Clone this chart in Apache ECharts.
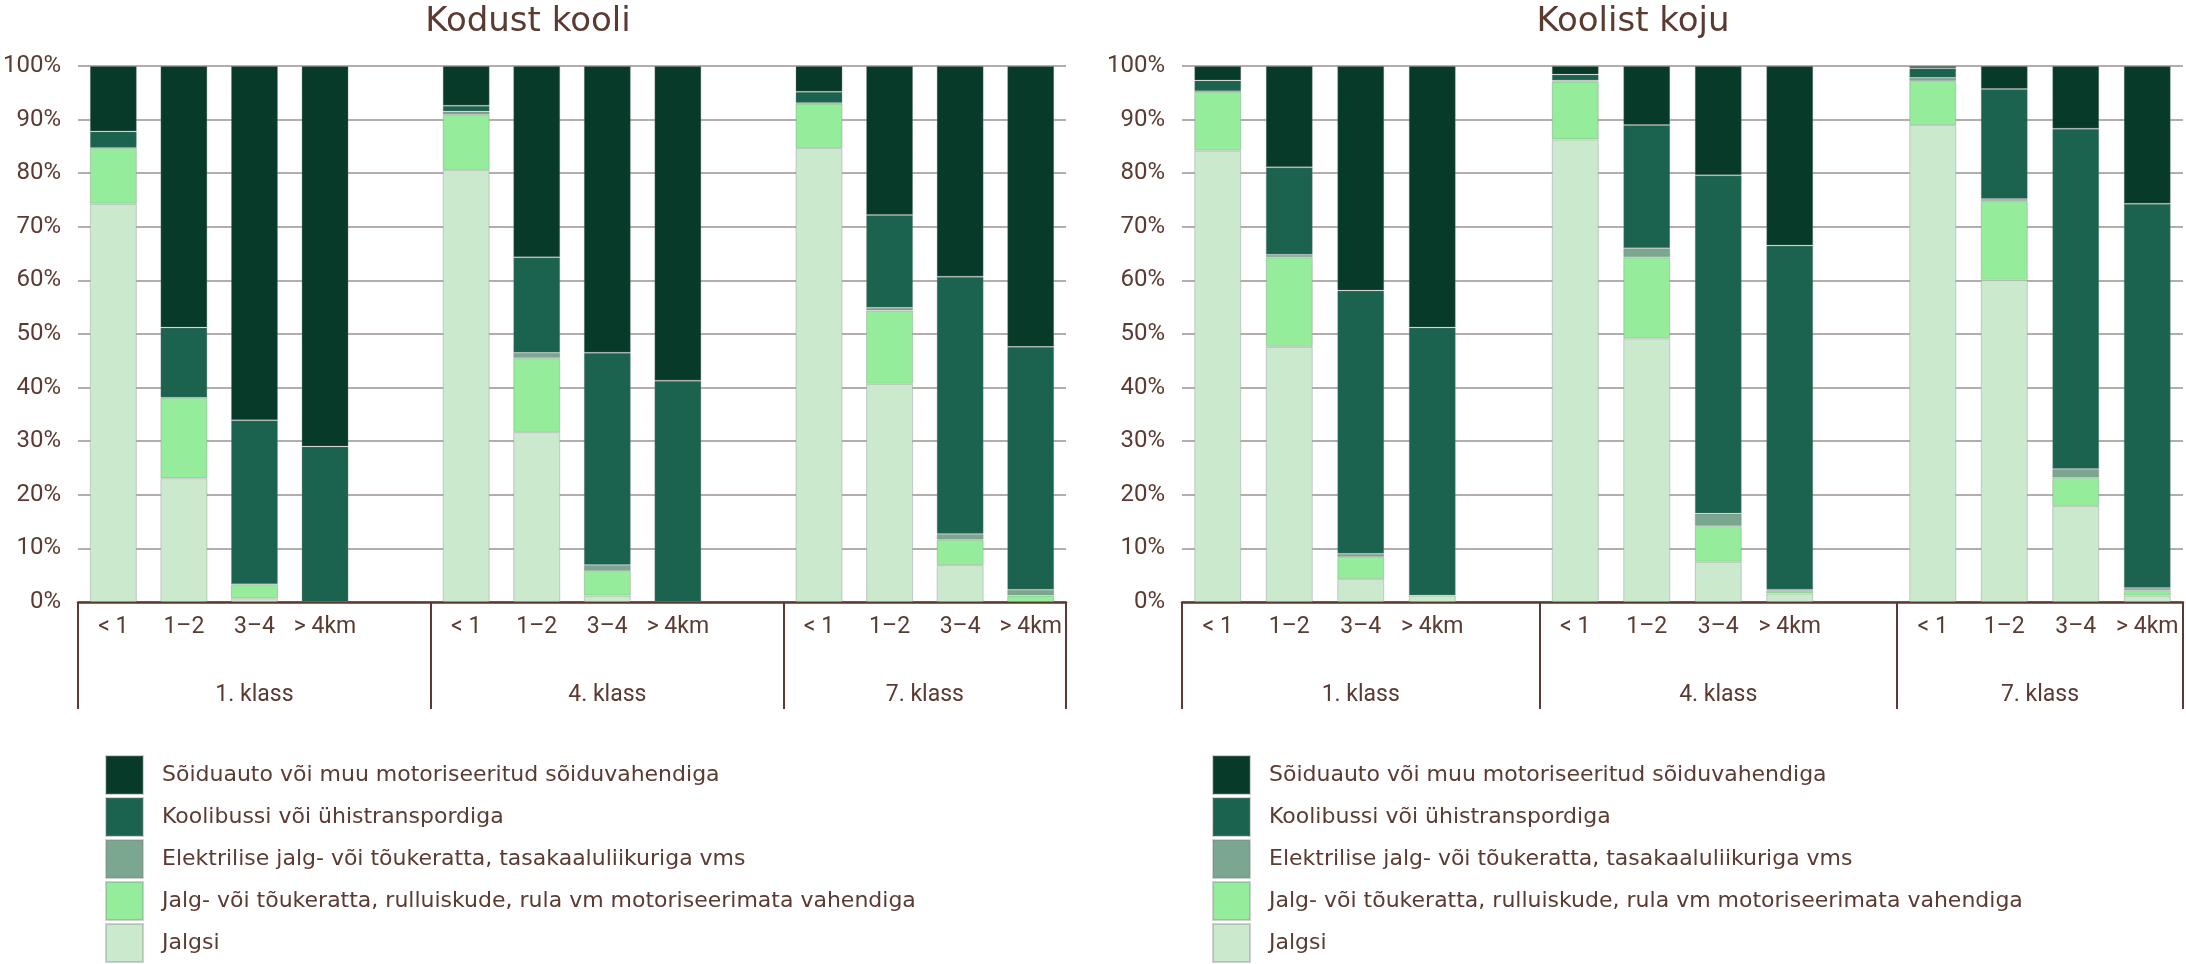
<!DOCTYPE html>
<html>
<head>
<meta charset="utf-8">
<script src="https://cdn.jsdelivr.net/npm/echarts@6/dist/echarts.min.js"></script>
<style>
html,body{margin:0;padding:0;background:#fff;}
#chart{width:2186px;height:964px;}
</style>
</head>
<body>
<div id="chart"></div>
<script>
// ---- data ----
const distanceLabels = ['< 1', '1–2', '3–4', '> 4km'];
const gradeLabels = ['1. klass', '4. klass', '7. klass'];
const chartTitles = ['Kodust kooli', 'Koolist koju'];
const yTicks = [0, 10, 20, 30, 40, 50, 60, 70, 80, 90, 100];

const seriesNames = [
  'Jalgsi',
  'Jalg- või tõukeratta, rulluiskude, rula vm motoriseerimata vahendiga',
  'Elektrilise jalg- või tõukeratta, tasakaaluliikuriga vms',
  'Koolibussi või ühistranspordiga',
  'Sõiduauto või muu motoriseeritud sõiduvahendiga'
];
const seriesColors = ['#cbe9cd', '#95ed9c', '#7ba68f', '#1b634e', '#073a28'];

// Kodust kooli (12 values: 1. klass <1..>4, 4. klass ..., 7. klass ...)
const kodustJalgsi     = [74.3, 23.1, 0.7, 0,    80.6, 31.7, 1.2, 0,    84.7, 40.7, 6.9, 0];
const kodustJalgratas  = [10.4, 15.0, 2.6, 0,    10.3, 13.8, 4.6, 0,    8.3, 13.7, 4.7, 1.2];
const kodustElektri    = [0,    0,    0,   0,    0.6,  1.0,  1.1, 0,    0.1, 0.5,  1.1, 1.1];
const kodustBuss       = [3.1, 13.1, 30.6, 29.0, 1.1, 17.8, 39.6, 41.3, 2.1, 17.3, 48.0, 45.3];
const kodustAuto       = [12.2, 48.8, 66.1, 71.0, 7.4, 35.7, 53.5, 58.7, 4.8, 27.8, 39.3, 52.4];

// Koolist koju
const koolistJalgsi    = [84.2, 47.6, 4.3, 1.2,  86.3, 49.2, 7.5, 1.6,  89.0, 60.1, 17.9, 1.2];
const koolistJalgratas = [11.0, 16.7, 4.1, 0,    10.8, 15.1, 6.7, 0.5,  8.2, 14.7, 5.3, 1.0];
const koolistElektri   = [0.1,  0.5,  0.6, 0,    0.2,  1.7,  2.3, 0.2,  0.6, 0.4,  1.6, 0.4];
const koolistBuss      = [2.0, 16.3, 49.1, 50.0, 1.1, 23.0, 63.1, 64.2, 1.8, 20.5, 63.5, 71.7];
const koolistAuto      = [2.7, 18.9, 41.9, 48.8, 1.6, 11.0, 20.4, 33.5, 0.4, 4.3, 11.7, 25.7];

const chartData = [
  [kodustJalgsi, kodustJalgratas, kodustElektri, kodustBuss, kodustAuto],
  [koolistJalgsi, koolistJalgratas, koolistElektri, koolistBuss, koolistAuto]
];

// ---- build ----
const BROWN = '#5b3a31';
const perGroup = distanceLabels.length;

// bar categories: 4 distances per grade, one empty slot between grades
const barCats = [];
gradeLabels.forEach((g, gi) => {
  distanceLabels.forEach(d => barCats.push(d));
  if (gi < gradeLabels.length - 1) barCats.push('');
});
function withGaps(arr) {
  const out = [];
  gradeLabels.forEach((g, gi) => {
    for (let k = 0; k < perGroup; k++) {
      const v = arr[gi * perGroup + k];
      out.push(v === 0 ? '-' : v);
    }
    if (gi < gradeLabels.length - 1) out.push('-');
  });
  return out;
}
// group axis: half-slot resolution, boundaryGap false
const nSlots = barCats.length;
const groupCats = new Array(nSlots * 2 + 1).fill('');
const groupTickIdx = [0];
let slotPos = 0;
gradeLabels.forEach((g, gi) => {
  const span = perGroup + (gi < gradeLabels.length - 1 ? 1 : 0);
  groupCats[slotPos * 2 + span] = g;
  slotPos += span;
  groupTickIdx.push(slotPos * 2);
});

const grids = [
  { left: 78, top: 66, width: 988, height: 536 },
  { left: 1182, top: 66, width: 1001, height: 536 }
];

const xAxes = [], yAxes = [], series = [];
grids.forEach((g, ci) => {
  xAxes.push({
    type: 'category', gridIndex: ci, data: barCats, position: 'bottom',
    axisLine: { show: true, lineStyle: { color: BROWN, width: 2.5 } },
    axisTick: { show: false },
    axisLabel: { interval: 0, color: BROWN, fontSize: 23, fontFamily: 'Roboto', margin: 14 },
    splitLine: { show: false }
  });
  xAxes.push({
    type: 'category', gridIndex: ci, data: groupCats, position: 'bottom', boundaryGap: false,
    axisLine: { show: false },
    axisTick: { show: true, length: 107, interval: (i) => groupTickIdx.includes(i),
      lineStyle: { color: BROWN, width: 2 } },
    axisLabel: { interval: (i, v) => v !== '', color: BROWN, fontSize: 23, fontFamily: 'Roboto', margin: 82 },
    splitLine: { show: false }
  });
  yAxes.push({
    type: 'value', gridIndex: ci, min: yTicks[0], max: yTicks[yTicks.length - 1], interval: yTicks[1] - yTicks[0],
    axisLine: { show: false }, axisTick: { show: false },
    axisLabel: { formatter: '{value}%', color: BROWN, fontSize: 24, fontFamily: 'Roboto', margin: 17 },
    splitLine: { lineStyle: { color: '#9c9091', width: 1.5 } }
  });
  chartData[ci].forEach((arr, si) => {
    series.push({
      type: 'bar', name: seriesNames[si], stack: 'chart' + ci,
      xAxisIndex: ci * 2, yAxisIndex: ci,
      barWidth: 47,
      data: withGaps(arr),
      itemStyle: { color: seriesColors[si], borderColor: 'rgba(120,130,125,0.35)', borderWidth: 1 },
      emphasis: { disabled: true }
    });
  });
});

const legendOrder = seriesNames.slice().reverse();
const legendBase = {
  orient: 'vertical', top: 755, height: 240, padding: 0,
  itemWidth: 37, itemHeight: 38, itemGap: 2,
  icon: 'rect', data: legendOrder, selectedMode: false,
  textStyle: { color: BROWN, fontSize: 22, fontFamily: 'DejaVu Sans', padding: [0, 0, 0, 14] }
};

const option = {
  animation: false,
  backgroundColor: '#ffffff',
  title: [
    { text: chartTitles[0], left: 523, top: 0, textAlign: 'center',
      textStyle: { color: BROWN, fontSize: 34, fontWeight: 'normal', fontFamily: 'DejaVu Sans' } },
    { text: chartTitles[1], left: 1628, top: 0, textAlign: 'center',
      textStyle: { color: BROWN, fontSize: 34, fontWeight: 'normal', fontFamily: 'DejaVu Sans' } }
  ],
  grid: grids,
  xAxis: xAxes,
  yAxis: yAxes,
  legend: [
    Object.assign({}, legendBase, { left: 105 }),
    Object.assign({}, legendBase, { left: 1212 })
  ],
  series: series
};

const chart = echarts.init(document.getElementById('chart'));
chart.setOption(option);
</script>
</body>
</html>
